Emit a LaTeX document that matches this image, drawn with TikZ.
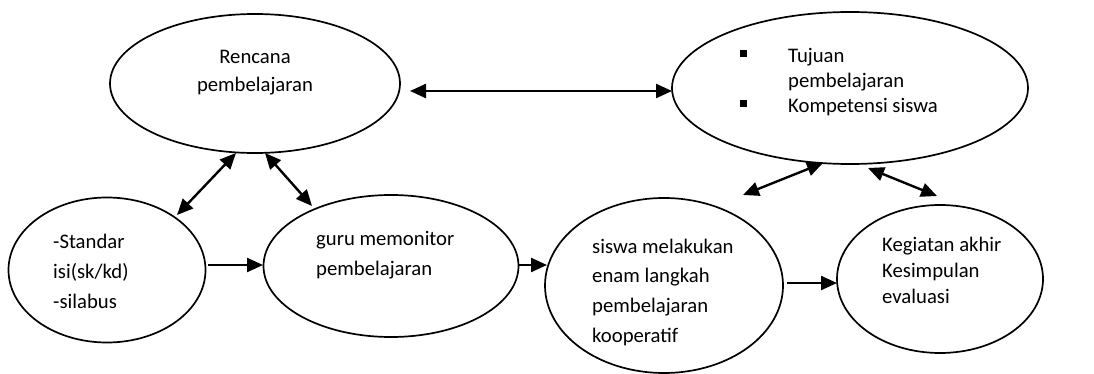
\documentclass[tikz,border=0pt]{standalone}
\usepackage{fontspec}
\setmainfont{Carlito}
\usetikzlibrary{arrows.meta,shapes.geometric}
\begin{document}
\begin{tikzpicture}[x=1pt,y=-1pt,
  oval/.style={draw=black,line width=1.7pt,ellipse,inner sep=0pt},
  conn/.style={line width=2.4pt,-{Triangle[length=16pt,width=14pt]}},
  biconn/.style={line width=2.4pt,{Triangle[length=16pt,width=14pt]}-{Triangle[length=16pt,width=14pt]}},
  lbl/.style={inner sep=0pt,anchor=base west}]
\useasboundingbox (0,0) rectangle (1094,374);
% ellipses
\node[oval,minimum width=290pt,minimum height=139pt] (e1) at (255,83.5) {};
\node[oval,minimum width=356pt,minimum height=152pt] (e2) at (850,88) {};
\node[oval,minimum width=197pt,minimum height=145pt] (e3) at (107,270) {};
\node[oval,minimum width=255pt,minimum height=142pt] (e4) at (391,266) {};
\node[oval,minimum width=238pt,minimum height=175pt] (e5) at (664,285.5) {};
\node[oval,minimum width=206pt,minimum height=148pt] (e6) at (940,279) {};
% texts
\node[inner sep=0pt,anchor=base] (t1) at (255,64)
  {\fontsize{20.7}{28}\selectfont\begin{tabular}[t]{@{}c@{}}Rencana\\pembelajaran\end{tabular}};
\node[lbl] (t2) at (740,63)
  {\fontsize{20.7}{25}\selectfont\begin{tabular}[t]{@{}l@{}}\makebox[48pt][l]{\rule[6pt]{7pt}{7pt}}Tujuan\\\hspace*{48pt}pembelajaran\\\makebox[48pt][l]{\rule[6pt]{7pt}{7pt}}Kompetensi siswa\end{tabular}};
\node[lbl] (t3) at (53,248)
  {\fontsize{20.7}{30}\selectfont\begin{tabular}[t]{@{}l@{}}-Standar\\isi(sk/kd)\\-silabus\end{tabular}};
\node[lbl] (t4) at (316,245)
  {\fontsize{20.7}{30}\selectfont\begin{tabular}[t]{@{}l@{}}guru memonitor\\pembelajaran\end{tabular}};
\node[lbl] (t5) at (592,253)
  {\fontsize{20.7}{29.7}\selectfont\begin{tabular}[t]{@{}l@{}}siswa melakukan\\enam langkah\\pembelajaran\\kooperatif\end{tabular}};
\node[lbl] (t6) at (882,251)
  {\fontsize{20.7}{26}\selectfont\begin{tabular}[t]{@{}l@{}}Kegiatan akhir\\Kesimpulan\\evaluasi\end{tabular}};
% connector end points
\coordinate (a12s) at (410,91);  \coordinate (a12e) at (672,91);
\coordinate (a13s) at (236,153); \coordinate (a13e) at (177,215);
\coordinate (a14s) at (265,153); \coordinate (a14e) at (312,206);
\coordinate (a34s) at (208,265); \coordinate (a34e) at (263,265);
\coordinate (a45s) at (518,265); \coordinate (a45e) at (547,265);
\coordinate (a56s) at (787,283); \coordinate (a56e) at (837,283);
\coordinate (a25s) at (823,163); \coordinate (a25e) at (743,195);
\coordinate (a26s) at (868,168); \coordinate (a26e) at (937,196);
% connectors
\draw[biconn] (a12s) -- (a12e);
\draw[biconn] (a13s) -- (a13e);
\draw[biconn] (a14s) -- (a14e);
\draw[conn] (a34s) -- (a34e);
\draw[conn] (a45s) -- (a45e);
\draw[conn] (a56s) -- (a56e);
\draw[biconn] (a25s) -- (a25e);
\draw[biconn] (a26s) -- (a26e);
\end{tikzpicture}
\end{document}
